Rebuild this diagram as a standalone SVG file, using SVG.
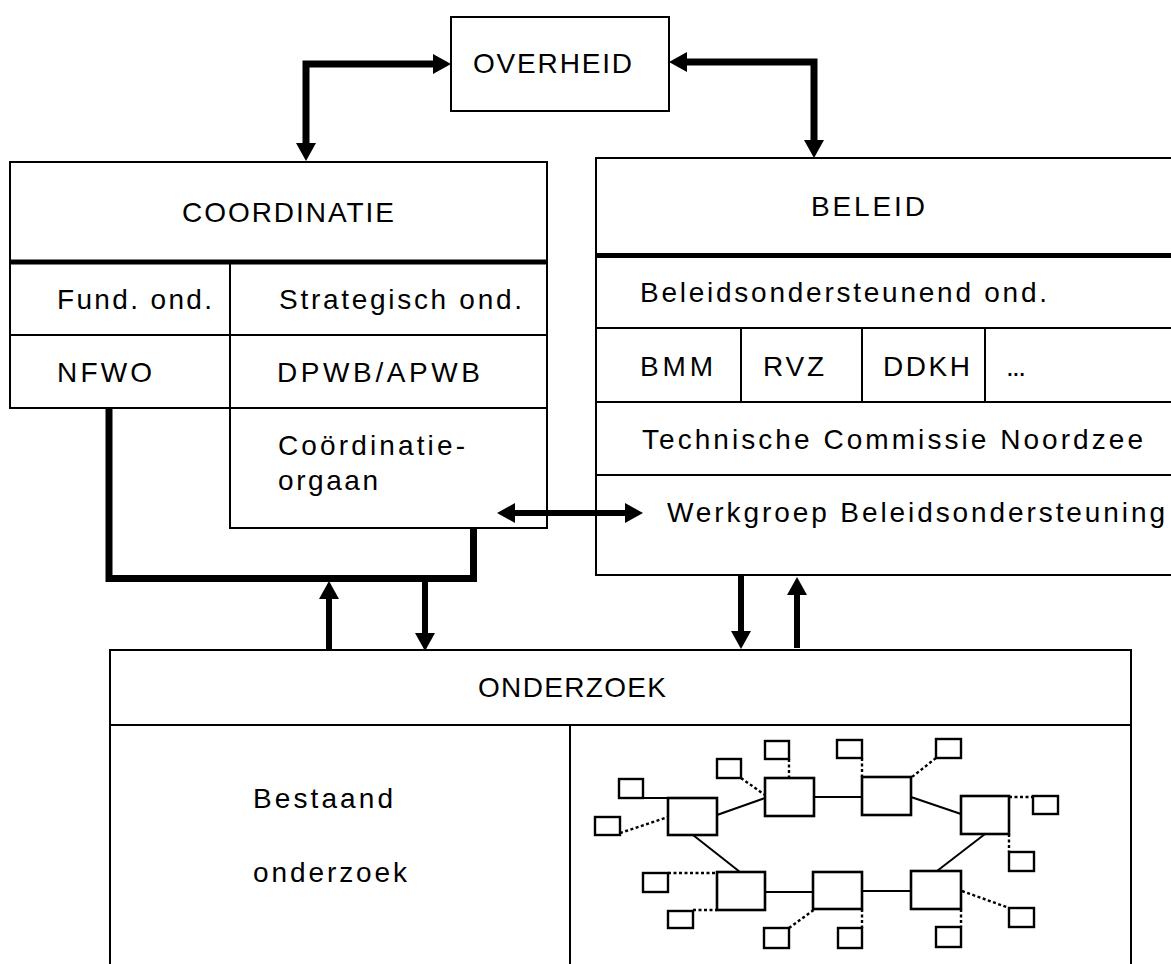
<svg xmlns="http://www.w3.org/2000/svg" width="1171" height="964" viewBox="0 0 1171 964">
<defs>
<style>
.box{fill:none;stroke:#000;stroke-width:2}
.ln{fill:none;stroke:#000;stroke-width:2}
.thick{fill:none;stroke:#000;stroke-width:5}
.conn{fill:none;stroke:#000;stroke-width:7;stroke-linejoin:miter}
.conn6{fill:none;stroke:#000;stroke-width:6}
.t{font-family:"Liberation Sans",Arial,Helvetica,sans-serif;font-size:28px;fill:#000}
.nb{fill:#fff;stroke:#000;stroke-width:2.6}
.sb{fill:#fff;stroke:#000;stroke-width:2.4}
.ns{stroke:#000;stroke-width:2}
.nd{stroke:#000;stroke-width:2.4;stroke-dasharray:3 2.5}
</style>
<marker id="ah" viewBox="0 0 18 20" refX="0" refY="10" markerUnits="userSpaceOnUse" markerWidth="18" markerHeight="20" orient="auto-start-reverse">
<path d="M0,0 L18,10 L0,20 z" fill="#000"/>
</marker>
</defs>
<rect x="0" y="0" width="1171" height="964" fill="#fff"/>

<g id="overheid">
<rect class="box" x="451" y="17" width="218" height="94"/>
<text class="t" x="473" y="73" textLength="159" lengthAdjust="spacing">OVERHEID</text>
</g>

<g id="coordinatie">
<path class="box" d="M10,162 H547 V528 H230 V408 H10 Z"/>
<line class="thick" x1="10" y1="262" x2="547" y2="262"/>
<line class="ln" x1="10" y1="335" x2="547" y2="335"/>
<line class="ln" x1="230" y1="408" x2="547" y2="408"/>
<line class="ln" x1="230" y1="262" x2="230" y2="408"/>
<text class="t" x="182" y="222" textLength="212" lengthAdjust="spacing">COORDINATIE</text>
<text class="t" x="57" y="309" textLength="155" lengthAdjust="spacing">Fund. ond.</text>
<text class="t" x="279" y="309" textLength="243" lengthAdjust="spacing">Strategisch ond.</text>
<text class="t" x="57" y="382" textLength="95" lengthAdjust="spacing">NFWO</text>
<text class="t" x="277" y="382" textLength="203" lengthAdjust="spacing">DPWB/APWB</text>
<text class="t" x="278" y="455" textLength="187" lengthAdjust="spacing">Coördinatie-</text>
<text class="t" x="278" y="490" textLength="100" lengthAdjust="spacing">orgaan</text>
</g>

<g id="beleid">
<path class="box" d="M1171,158 H596 V575 H1171"/>
<line class="thick" x1="596" y1="255.5" x2="1171" y2="255.5"/>
<line class="ln" x1="596" y1="328" x2="1171" y2="328"/>
<line class="ln" x1="596" y1="402" x2="1171" y2="402"/>
<line class="ln" x1="596" y1="475" x2="1171" y2="475"/>
<line class="ln" x1="741" y1="328" x2="741" y2="402"/>
<line class="ln" x1="862" y1="328" x2="862" y2="402"/>
<line class="ln" x1="985" y1="328" x2="985" y2="402"/>
<text class="t" x="811" y="216" textLength="114" lengthAdjust="spacing">BELEID</text>
<text class="t" x="640" y="302" textLength="407" lengthAdjust="spacing">Beleidsondersteunend ond.</text>
<text class="t" x="640" y="376" textLength="73" lengthAdjust="spacing">BMM</text>
<text class="t" x="763" y="376" textLength="61" lengthAdjust="spacing">RVZ</text>
<text class="t" x="883" y="376" textLength="87" lengthAdjust="spacing">DDKH</text>
<text class="t" x="1006" y="376" textLength="20" lengthAdjust="spacing">...</text>
<text class="t" x="642" y="449" textLength="501" lengthAdjust="spacing">Technische Commissie Noordzee</text>
<text class="t" x="667" y="522" textLength="498" lengthAdjust="spacing">Werkgroep Beleidsondersteuning</text>
</g>

<g id="onderzoek">
<path class="box" d="M110,964 V650 H1131 V964"/>
<line class="ln" x1="110" y1="725" x2="1131" y2="725"/>
<line class="ln" x1="570" y1="725" x2="570" y2="964"/>
<text class="t" x="478" y="697" textLength="188" lengthAdjust="spacing">ONDERZOEK</text>
<text class="t" x="253" y="808" textLength="140" lengthAdjust="spacing">Bestaand</text>
<text class="t" x="253" y="882" textLength="154" lengthAdjust="spacing">onderzoek</text>
</g>

<g id="network">
<g id="net-links">
<line class="ns" x1="643" y1="798" x2="668" y2="798"/>
<line class="ns" x1="717" y1="815" x2="765" y2="798"/>
<line class="ns" x1="814" y1="797" x2="862" y2="797"/>
<line class="ns" x1="911" y1="797" x2="961" y2="814"/>
<line class="ns" x1="693" y1="835" x2="740" y2="872"/>
<line class="ns" x1="765" y1="892" x2="813" y2="892"/>
<line class="ns" x1="862" y1="891" x2="911" y2="891"/>
<line class="ns" x1="985" y1="834" x2="937" y2="871"/>
<line class="nd" x1="620" y1="833" x2="668" y2="817"/>
<line class="nd" x1="741" y1="778" x2="765" y2="795"/>
<line class="nd" x1="789" y1="759" x2="789" y2="778"/>
<line class="nd" x1="862" y1="758" x2="862" y2="777"/>
<line class="nd" x1="936" y1="758" x2="912" y2="777"/>
<line class="nd" x1="1009" y1="797" x2="1033" y2="797"/>
<line class="nd" x1="1009" y1="834" x2="1009" y2="852"/>
<line class="nd" x1="668" y1="873" x2="717" y2="873"/>
<line class="nd" x1="693" y1="910" x2="717" y2="910"/>
<line class="nd" x1="789" y1="928" x2="815" y2="909"/>
<line class="nd" x1="862" y1="909" x2="862" y2="928"/>
<line class="nd" x1="961" y1="909" x2="961" y2="927"/>
<line class="nd" x1="962" y1="891" x2="1009" y2="908"/>
</g>
<g id="net-main">
<rect class="nb" x="668" y="798" width="49" height="37"/>
<rect class="nb" x="765" y="778" width="49" height="38"/>
<rect class="nb" x="862" y="777" width="49" height="38"/>
<rect class="nb" x="961" y="796" width="48" height="38"/>
<rect class="nb" x="717" y="872" width="48" height="38"/>
<rect class="nb" x="813" y="872" width="49" height="37"/>
<rect class="nb" x="911" y="871" width="50" height="38"/>
</g>
<g id="net-small">
<rect class="sb" x="619" y="779" width="24" height="19"/>
<rect class="sb" x="595" y="817" width="25" height="18"/>
<rect class="sb" x="717" y="759" width="24" height="19"/>
<rect class="sb" x="765" y="741" width="24" height="18"/>
<rect class="sb" x="837" y="740" width="25" height="18"/>
<rect class="sb" x="936" y="739" width="25" height="19"/>
<rect class="sb" x="1033" y="796" width="25" height="18"/>
<rect class="sb" x="1009" y="852" width="25" height="19"/>
<rect class="sb" x="643" y="873" width="25" height="19"/>
<rect class="sb" x="668" y="911" width="25" height="17"/>
<rect class="sb" x="764" y="928" width="25" height="20"/>
<rect class="sb" x="838" y="928" width="24" height="20"/>
<rect class="sb" x="936" y="927" width="25" height="20"/>
<rect class="sb" x="1009" y="908" width="25" height="19"/>
</g>
</g>

<g id="connectors">
<path class="conn" d="M433,64 H306 V143" marker-start="url(#ah)" marker-end="url(#ah)"/>
<path class="conn" d="M687,62 H814 V140" marker-start="url(#ah)" marker-end="url(#ah)"/>
<path class="conn" d="M109,408 V578.5 H473.5 V528"/>
<path class="conn6" d="M515,513 H625" marker-start="url(#ah)" marker-end="url(#ah)"/>
<path class="conn6" d="M329,650 V599" marker-end="url(#ah)"/>
<path class="conn6" d="M425,582 V633" marker-end="url(#ah)"/>
<path class="conn6" d="M741,575 V631" marker-end="url(#ah)"/>
<path class="conn6" d="M797,648 V595" marker-end="url(#ah)"/>
</g>
</svg>
